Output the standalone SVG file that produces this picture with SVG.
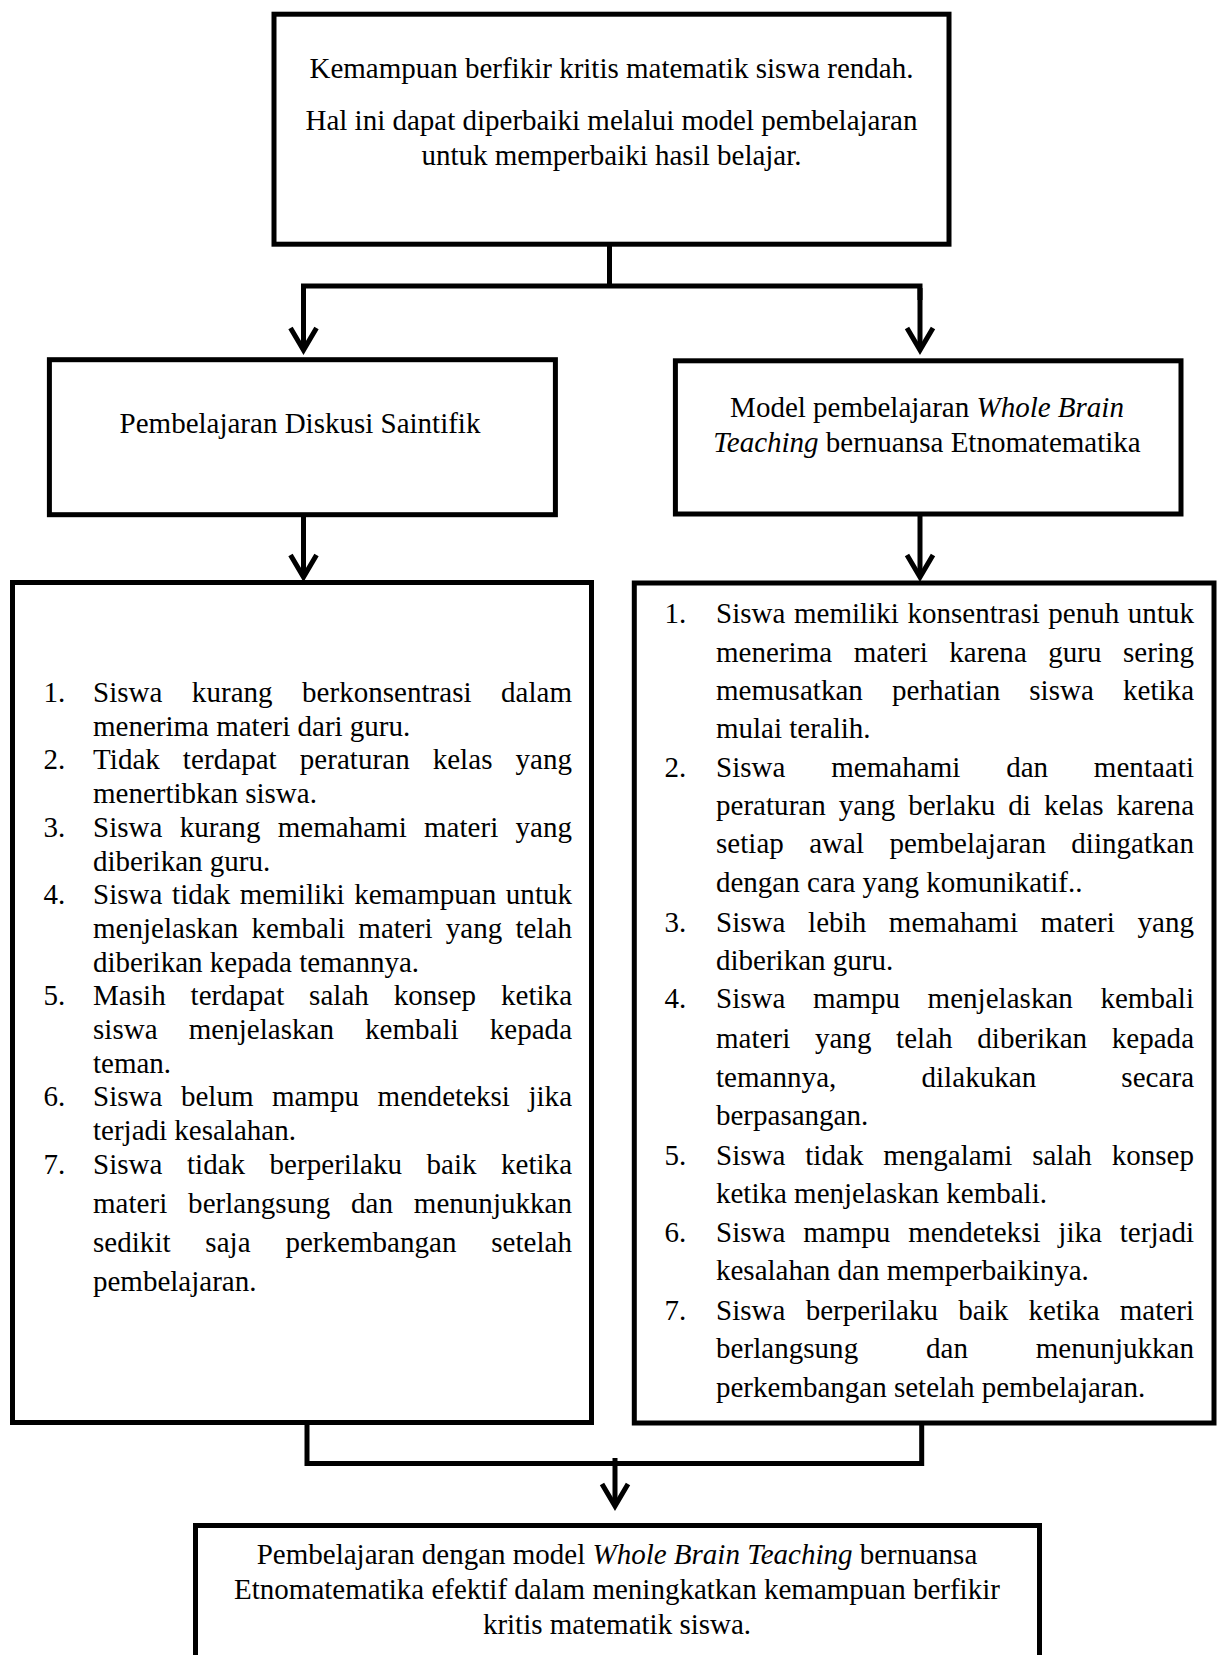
<svg xmlns="http://www.w3.org/2000/svg" width="1219" height="1655" viewBox="0 0 1219 1655">
<style>
.box{fill:#fff;stroke:#000;stroke-width:5}
.t{font-family:"Liberation Serif","Times New Roman",serif;font-size:29px;fill:#000}
.c{text-anchor:middle}
.i{font-style:italic}
.con{fill:none;stroke:#000;stroke-width:5;stroke-linejoin:miter}
</style>
<defs>
<marker id="arr" markerUnits="userSpaceOnUse" viewBox="-30 -20 36 40" refX="0" refY="0" markerWidth="36" markerHeight="40" orient="auto" overflow="visible">
<path d="M-22,-13 L0,0 L-22,13" fill="none" stroke="#000" stroke-width="5" stroke-linejoin="miter"/>
</marker>
</defs>
<rect width="1219" height="1655" fill="#fff"/>

<g id="connectors">
<path class="con" d="M609.5 246 V286"/>
<path class="con" d="M303.5 300 V286 H920 V300"/>
<path class="con" d="M303.5 288 V350" marker-end="url(#arr)"/>
<path class="con" d="M920 288 V350" marker-end="url(#arr)"/>
<path class="con" d="M303.5 517 V577" marker-end="url(#arr)"/>
<path class="con" d="M920 516 V577" marker-end="url(#arr)"/>
<path class="con" d="M307 1424 V1463.5 H921.7 V1424"/>
<path class="con" d="M615 1458 V1506" marker-end="url(#arr)"/>
</g>

<g id="node-top">
<rect class="box" x="274" y="14.2" width="675" height="230"/>
<text class="t c" x="611.5" y="78">Kemampuan berfikir kritis matematik siswa rendah.</text>
<text class="t c" x="611.5" y="130">Hal ini dapat diperbaiki melalui model pembelajaran</text>
<text class="t c" x="611.5" y="164.5">untuk memperbaiki hasil belajar.</text>
</g>

<g id="node-diskusi">
<rect class="box" x="49.4" y="359.7" width="506" height="155"/>
<text class="t c" x="300" y="433">Pembelajaran Diskusi Saintifik</text>
</g>

<g id="node-wbt">
<rect class="box" x="675.4" y="360.8" width="505.6" height="153.2"/>
<text class="t c" x="927" y="417">Model pembelajaran <tspan class="i">Whole Brain</tspan></text>
<text class="t c" x="927" y="452"><tspan class="i">Teaching</tspan> bernuansa Etnomatematika</text>
</g>

<g id="node-left-list">
<rect class="box" x="12.5" y="582.5" width="579" height="840"/>
<text class="t" x="43.5" y="702">1.</text>
<text class="t" x="93" y="702" textLength="479" lengthAdjust="spacing" word-spacing="22.1">Siswa kurang berkonsentrasi dalam</text>
<text class="t" x="93" y="735.7">menerima materi dari guru.</text>
<text class="t" x="43.5" y="769.4">2.</text>
<text class="t" x="93" y="769.4" textLength="479" lengthAdjust="spacing" word-spacing="15.6">Tidak terdapat peraturan kelas yang</text>
<text class="t" x="93" y="803.1">menertibkan siswa.</text>
<text class="t" x="43.5" y="836.8">3.</text>
<text class="t" x="93" y="836.8" textLength="479" lengthAdjust="spacing" word-spacing="10">Siswa kurang memahami materi yang</text>
<text class="t" x="93" y="870.5">diberikan guru.</text>
<text class="t" x="43.5" y="904.2">4.</text>
<text class="t" x="93" y="904.2" textLength="479" lengthAdjust="spacing" word-spacing="2.3">Siswa tidak memiliki kemampuan untuk</text>
<text class="t" x="93" y="937.9" textLength="479" lengthAdjust="spacing" word-spacing="5.9">menjelaskan kembali materi yang telah</text>
<text class="t" x="93" y="971.6">diberikan kepada temannya.</text>
<text class="t" x="43.5" y="1005.3">5.</text>
<text class="t" x="93" y="1005.3" textLength="479" lengthAdjust="spacing" word-spacing="17.6">Masih terdapat salah konsep ketika</text>
<text class="t" x="93" y="1039" textLength="479" lengthAdjust="spacing" word-spacing="23.8">siswa menjelaskan kembali kepada</text>
<text class="t" x="93" y="1072.7">teman.</text>
<text class="t" x="43.5" y="1106.4">6.</text>
<text class="t" x="93" y="1106.4" textLength="479" lengthAdjust="spacing" word-spacing="11.2">Siswa belum mampu mendeteksi jika</text>
<text class="t" x="93" y="1140.1">terjadi kesalahan.</text>
<text class="t" x="43.5" y="1173.8">7.</text>
<text class="t" x="93" y="1173.8" textLength="479" lengthAdjust="spacing" word-spacing="17.2">Siswa tidak berperilaku baik ketika</text>
<text class="t" x="93" y="1212.7" textLength="479" lengthAdjust="spacing" word-spacing="13.5">materi berlangsung dan menunjukkan</text>
<text class="t" x="93" y="1251.7" textLength="479" lengthAdjust="spacing" word-spacing="27.5">sedikit saja perkembangan setelah</text>
<text class="t" x="93" y="1290.5">pembelajaran.</text>
</g>

<g id="node-right-list">
<rect class="box" x="634.3" y="583" width="579.7" height="840"/>
<text class="t" x="664.5" y="623">1.</text>
<text class="t" x="716" y="623" textLength="478" lengthAdjust="spacing" word-spacing="1.2">Siswa memiliki konsentrasi penuh untuk</text>
<text class="t" x="716" y="661.5" textLength="478" lengthAdjust="spacing" word-spacing="14.2">menerima materi karena guru sering</text>
<text class="t" x="716" y="700" textLength="478" lengthAdjust="spacing" word-spacing="21.8">memusatkan perhatian siswa ketika</text>
<text class="t" x="716" y="738.3">mulai teralih.</text>
<text class="t" x="664.5" y="776.7">2.</text>
<text class="t" x="716" y="776.7" textLength="478" lengthAdjust="spacing" word-spacing="38.4">Siswa memahami dan mentaati</text>
<text class="t" x="716" y="815" textLength="478" lengthAdjust="spacing" word-spacing="5.7">peraturan yang berlaku di kelas karena</text>
<text class="t" x="716" y="853.3" textLength="478" lengthAdjust="spacing" word-spacing="18.1">setiap awal pembelajaran diingatkan</text>
<text class="t" x="716" y="891.7">dengan cara yang komunikatif..</text>
<text class="t" x="664.5" y="931.5">3.</text>
<text class="t" x="716" y="931.5" textLength="478" lengthAdjust="spacing" word-spacing="15.3">Siswa lebih memahami materi yang</text>
<text class="t" x="716" y="970">diberikan guru.</text>
<text class="t" x="664.5" y="1008.3">4.</text>
<text class="t" x="716" y="1008.3" textLength="478" lengthAdjust="spacing" word-spacing="20.2">Siswa mampu menjelaskan kembali</text>
<text class="t" x="716" y="1048" textLength="478" lengthAdjust="spacing" word-spacing="17.4">materi yang telah diberikan kepada</text>
<text class="t" x="716" y="1086.7" textLength="478" lengthAdjust="spacing" word-spacing="77.8">temannya, dilakukan secara</text>
<text class="t" x="716" y="1125">berpasangan.</text>
<text class="t" x="664.5" y="1165">5.</text>
<text class="t" x="716" y="1165" textLength="478" lengthAdjust="spacing" word-spacing="12.5">Siswa tidak mengalami salah konsep</text>
<text class="t" x="716" y="1203.3">ketika menjelaskan kembali.</text>
<text class="t" x="664.5" y="1241.7">6.</text>
<text class="t" x="716" y="1241.7" textLength="478" lengthAdjust="spacing" word-spacing="10.5">Siswa mampu mendeteksi jika terjadi</text>
<text class="t" x="716" y="1280">kesalahan dan memperbaikinya.</text>
<text class="t" x="664.5" y="1320">7.</text>
<text class="t" x="716" y="1320" textLength="478" lengthAdjust="spacing" word-spacing="12.9">Siswa berperilaku baik ketika materi</text>
<text class="t" x="716" y="1358.3" textLength="478" lengthAdjust="spacing" word-spacing="60.5">berlangsung dan menunjukkan</text>
<text class="t" x="716" y="1397">perkembangan setelah pembelajaran.</text>
</g>

<g id="node-result">
<rect class="box" x="195.5" y="1525.5" width="844" height="200"/>
<text class="t c" x="617" y="1564">Pembelajaran dengan model <tspan class="i">Whole Brain Teaching</tspan> bernuansa</text>
<text class="t c" x="617" y="1599">Etnomatematika efektif dalam meningkatkan kemampuan berfikir</text>
<text class="t c" x="617" y="1634">kritis matematik siswa.</text>
</g>
</svg>
